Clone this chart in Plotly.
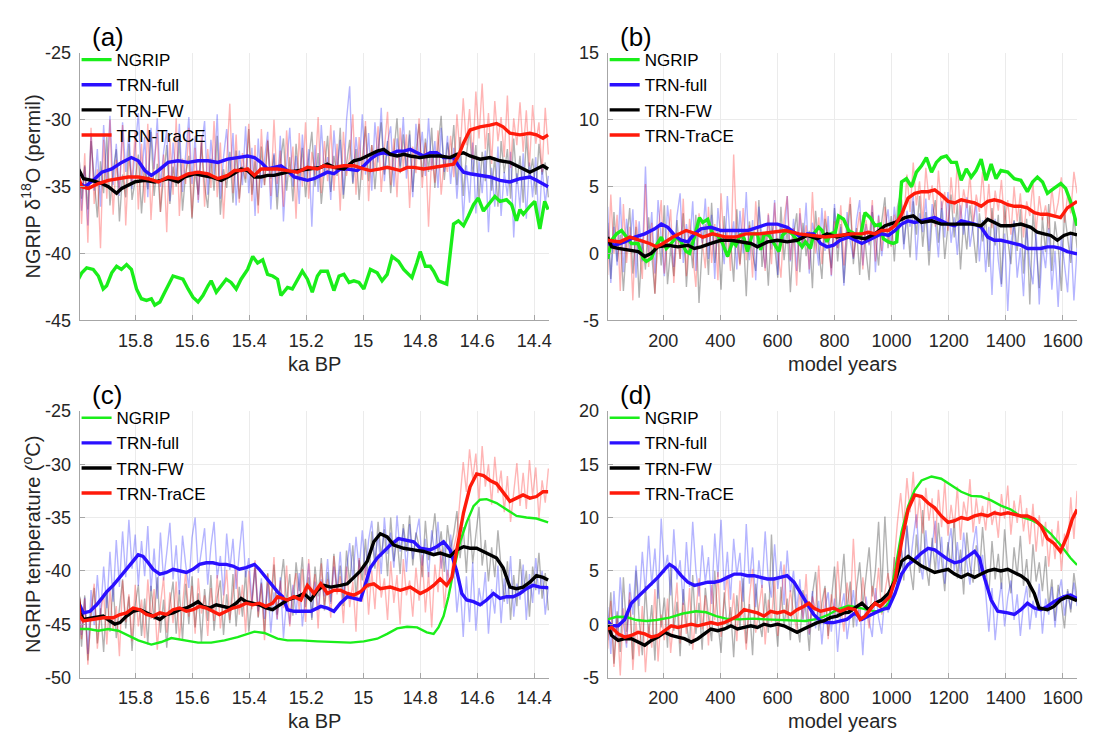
import numpy as np
import plotly.graph_objects as go

FONT = "Liberation Sans, Arial, Helvetica, sans-serif"

# ---------------- axis / tick labels ----------------
ka_ticks = [15.8, 15.6, 15.4, 15.2, 15.0, 14.8, 14.6, 14.4]
ka_ticktext = ["15.8", "15.6", "15.4", "15.2", "15", "14.8", "14.6", "14.4"]
yr_ticks = [200, 400, 600, 800, 1000, 1200, 1400, 1600]
ya_ticks = [-45, -40, -35, -30, -25]
yb_ticks = [-5, 0, 5, 10, 15]
yc_ticks = [-50, -45, -40, -35, -30, -25]
yd_ticks = [-5, 0, 5, 10, 15, 20]
series_names = ["NGRIP", "TRN-full", "TRN-FW", "TRN-TraCE"]

# ---------------- panel (a): NGRIP d18O vs ka BP ----------------
a_raw_span = [16.0, 14.35]
a_raw_fw = [-32.0, -35.9, -33.4, -36.7, -31.6, -34.8, -37.3, -33.1, -35.5, -31.3,
            -36.4, -33.9, -32.2, -37.6, -34.1, -35.8, -31.8, -36.0, -34.5, -32.6,
            -37.0, -33.6, -35.2, -30.9, -35.7, -33.3, -36.9, -34.2, -31.9, -36.3,
            -33.5, -35.0, -31.5, -36.8, -34.0, -32.7, -37.4, -33.8, -35.6, -31.7,
            -34.9, -36.6, -32.9, -35.3, -31.2, -37.1, -33.7, -35.1, -32.4, -36.2,
            -32.3, -35.9, -33.5, -34.7, -30.7, -35.6, -33.1, -36.4, -32.0, -34.9,
            -31.6, -34.4, -32.6, -36.7, -33.2, -31.4, -35.3, -32.8, -36.1, -31.8,
            -34.6, -32.1, -35.8, -33.0, -30.9, -35.0, -32.5, -36.3, -33.6, -31.2,
            -35.4, -32.7, -34.2, -30.6, -35.9, -33.3, -31.5, -34.8, -32.2, -36.0,
            -32.9, -30.5, -34.6, -31.9, -35.2, -32.3, -30.2, -34.1, -31.6, -35.5,
            -32.5, -29.9, -34.0, -31.1, -33.7, -30.8, -35.4, -32.4, -30.3, -34.3,
            -31.4, -33.9, -30.6, -35.1, -32.0, -29.7, -34.5, -31.7, -33.3, -30.4,
            -34.9, -31.3, -35.7, -32.6, -30.8, -34.2, -31.9, -36.1, -32.4, -34.6,
            -31.0, -35.3, -32.8, -36.5, -31.6, -34.0, -32.2, -35.9, -31.4, -34.8,
            -32.7, -36.2, -31.2, -34.4, -32.9, -35.6, -31.8, -34.1, -33.2, -35.8]
a_raw_full = [-31.6, -36.8, -33.5, -37.9, -31.0, -35.3, -32.2, -36.5, -30.4, -34.6,
              -29.7, -34.9, -31.8, -35.7, -30.2, -33.9, -30.9, -35.2, -32.1, -29.5,
              -34.4, -31.3, -35.8, -30.6, -33.7, -29.9, -35.0, -32.4, -30.8, -36.1,
              -31.7, -34.5, -30.3, -35.4, -32.6, -29.8, -34.8, -31.2, -36.2, -32.0,
              -30.1, -35.6, -31.5, -34.1, -29.6, -35.9, -32.8, -30.7, -34.3, -31.0,
              -36.4, -32.3, -34.9, -30.5, -35.5, -32.1, -37.2, -31.4, -35.1, -33.0,
              -30.9, -36.7, -32.5, -35.8, -31.2, -37.6, -33.4, -30.6, -35.0, -32.7,
              -36.3, -31.1, -34.6, -32.2, -38.0, -31.9, -35.4, -30.4, -34.2, -32.8,
              -36.0, -30.8, -33.9, -31.5, -35.6, -30.0, -27.5, -34.7, -31.3, -33.6,
              -29.6, -34.1, -31.0, -35.3, -30.2, -33.2, -29.1, -34.6, -31.7, -30.5,
              -35.0, -31.4, -33.5, -29.8, -34.4, -31.1, -35.8, -30.3, -33.0, -30.9,
              -34.2, -29.9, -33.8, -31.6, -35.1, -30.6, -33.9, -31.2, -34.8, -32.1,
              -35.9, -32.6, -37.6, -33.4, -36.2, -31.7, -37.0, -33.1, -35.5, -32.3,
              -38.4, -33.6, -36.5, -32.0, -37.2, -33.9, -35.7, -32.4, -38.8, -34.0,
              -36.6, -32.5, -37.4, -33.2, -35.8, -32.8, -38.1, -33.5, -36.3, -34.2]
a_raw_trace = [-31.2, -37.8, -32.5, -39.2, -30.6, -36.3, -33.7, -39.6, -31.5, -35.9,
               -30.0, -37.1, -33.0, -35.4, -30.4, -37.9, -32.8, -34.6, -30.9, -36.7,
               -31.8, -36.2, -30.3, -37.5, -33.3, -31.0, -36.9, -32.6, -38.4, -31.4,
               -35.6, -29.9, -37.2, -32.9, -34.8, -30.6, -37.3, -32.1, -36.0, -31.2,
               -36.5, -32.2, -35.1, -30.1, -35.8, -31.7, -37.4, -33.2, -28.8, -35.5,
               -31.1, -36.2, -32.5, -34.4, -30.3, -36.1, -31.9, -37.0, -30.7, -34.9,
               -31.5, -35.7, -30.0, -34.8, -32.3, -36.5, -30.8, -34.3, -32.0, -37.4,
               -31.0, -35.0, -30.2, -35.9, -32.4, -34.1, -29.8, -35.5, -31.6, -34.6,
               -30.4, -35.3, -31.8, -36.8, -30.9, -34.2, -32.7, -29.6, -35.6, -31.3,
               -34.5, -30.1, -36.1, -31.9, -33.8, -30.5, -35.4, -32.2, -29.4, -34.9,
               -31.4, -35.8, -30.6, -33.6, -31.1, -36.6, -32.0, -34.0, -29.9, -35.1,
               -31.7, -38.0, -32.5, -34.7, -30.8, -35.6, -32.9, -33.9, -31.2, -34.3,
               -29.6, -32.6, -28.4, -31.9, -29.2, -33.0, -27.9, -31.4, -27.3, -32.2,
               -29.5, -33.3, -28.6, -31.6, -29.8, -32.8, -28.2, -33.6, -29.9, -31.9,
               -28.7, -32.4, -29.3, -33.5, -28.9, -31.8, -30.2, -33.9, -29.1, -32.6]

a_ngrip = [(16.000, -41.92), (15.988, -41.44), (15.971, -41.07), (15.948, -41.19), (15.930, -41.68), (15.913, -42.65), (15.901, -42.41), (15.883, -41.44),
           (15.866, -40.95), (15.849, -41.19), (15.831, -40.83), (15.814, -41.19), (15.796, -42.65), (15.779, -43.38), (15.761, -43.50), (15.744, -43.38),
           (15.732, -43.86), (15.714, -43.62), (15.697, -42.89), (15.680, -42.16), (15.668, -41.68), (15.650, -41.80), (15.633, -41.92), (15.615, -42.65),
           (15.598, -43.26), (15.580, -43.62), (15.563, -43.14), (15.545, -42.41), (15.534, -42.04), (15.516, -42.89), (15.499, -42.41), (15.481, -41.92),
           (15.464, -42.16), (15.446, -42.65), (15.429, -41.92), (15.406, -41.19), (15.388, -40.22), (15.371, -40.71), (15.353, -40.47), (15.336, -41.56),
           (15.318, -41.68), (15.301, -41.92), (15.289, -43.14), (15.266, -42.53), (15.249, -42.65), (15.231, -41.92), (15.214, -41.32), (15.196, -41.92),
           (15.179, -42.89), (15.161, -41.68), (15.149, -41.32), (15.126, -41.32), (15.103, -42.77), (15.085, -41.68), (15.068, -41.56), (15.050, -42.16),
           (15.033, -42.04), (15.015, -42.16), (14.998, -42.65), (14.975, -41.19), (14.951, -41.44), (14.934, -42.04), (14.916, -41.56), (14.899, -40.22),
           (14.876, -40.59), (14.858, -41.19), (14.829, -41.80), (14.812, -40.71), (14.800, -39.86), (14.782, -40.95), (14.765, -40.95), (14.753, -41.32),
           (14.736, -42.04), (14.707, -42.28), (14.695, -40.22), (14.683, -37.80), (14.666, -37.56), (14.648, -37.92), (14.631, -37.19), (14.613, -36.35),
           (14.596, -35.86), (14.578, -36.83), (14.561, -36.35), (14.538, -35.74), (14.520, -36.10), (14.497, -35.98), (14.479, -36.35), (14.462, -37.56),
           (14.450, -36.71), (14.438, -37.07), (14.415, -36.47), (14.398, -36.10), (14.380, -38.16), (14.363, -36.10), (14.351, -36.71)]
a_full = [(16.003, -34.65), (15.977, -35.01), (15.942, -34.41), (15.918, -33.92), (15.883, -33.68), (15.848, -33.19), (15.814, -32.83), (15.790, -33.07),
          (15.767, -33.80), (15.744, -34.16), (15.720, -33.80), (15.685, -33.19), (15.650, -33.07), (15.615, -33.19), (15.580, -33.07), (15.545, -33.07),
          (15.510, -33.19), (15.476, -32.95), (15.441, -32.83), (15.406, -32.71), (15.382, -32.83), (15.359, -33.19), (15.336, -33.68), (15.313, -33.56),
          (15.289, -33.44), (15.266, -33.80), (15.243, -34.28), (15.219, -34.41), (15.196, -34.53), (15.173, -34.41), (15.149, -34.16), (15.126, -33.92),
          (15.103, -34.04), (15.080, -33.68), (15.056, -33.68), (15.021, -33.80), (14.998, -33.44), (14.975, -32.95), (14.951, -32.59), (14.928, -32.47),
          (14.905, -32.59), (14.881, -32.35), (14.858, -32.35), (14.835, -32.22), (14.811, -32.47), (14.788, -32.71), (14.765, -32.47), (14.742, -32.47),
          (14.718, -32.83), (14.683, -32.83), (14.666, -33.44), (14.648, -33.92), (14.625, -34.04), (14.590, -34.16), (14.555, -34.28), (14.520, -34.53),
          (14.485, -34.65), (14.450, -34.41), (14.415, -34.28), (14.392, -34.53), (14.369, -34.77), (14.351, -35.01)]
a_fw = [(16.003, -33.56), (15.982, -34.41), (15.953, -34.53), (15.918, -34.77), (15.895, -35.01), (15.866, -35.50), (15.848, -35.13), (15.825, -34.89),
        (15.802, -34.65), (15.767, -34.53), (15.732, -34.65), (15.709, -34.53), (15.685, -34.41), (15.650, -34.65), (15.627, -34.28), (15.592, -34.04),
        (15.569, -34.16), (15.534, -34.28), (15.499, -34.53), (15.464, -34.16), (15.429, -33.68), (15.406, -33.80), (15.382, -34.28), (15.359, -34.28),
        (15.336, -34.16), (15.313, -34.16), (15.266, -33.92), (15.219, -33.80), (15.184, -33.68), (15.149, -33.56), (15.126, -33.32), (15.103, -33.56),
        (15.068, -33.68), (15.033, -33.07), (15.010, -32.95), (14.975, -32.59), (14.951, -32.35), (14.928, -32.22), (14.905, -32.59), (14.881, -32.71),
        (14.858, -32.59), (14.835, -32.71), (14.800, -32.83), (14.765, -32.71), (14.730, -32.71), (14.695, -32.83), (14.672, -32.59), (14.648, -32.47),
        (14.625, -32.71), (14.590, -32.95), (14.555, -32.83), (14.520, -33.07), (14.485, -33.19), (14.450, -33.56), (14.415, -33.92), (14.392, -33.68),
        (14.369, -33.44), (14.351, -33.68)]
a_trace = [(16.003, -34.16), (15.988, -35.01), (15.965, -35.13), (15.930, -34.77), (15.895, -34.53), (15.860, -34.41), (15.825, -34.28), (15.790, -34.28),
           (15.755, -34.41), (15.720, -34.65), (15.685, -34.28), (15.650, -34.41), (15.615, -34.04), (15.580, -33.92), (15.545, -34.04), (15.510, -34.41),
           (15.476, -34.16), (15.452, -33.80), (15.429, -33.80), (15.406, -33.68), (15.382, -34.16), (15.359, -33.68), (15.336, -33.68), (15.301, -33.68),
           (15.266, -33.80), (15.231, -33.92), (15.196, -33.56), (15.161, -33.68), (15.138, -33.44), (15.103, -33.56), (15.068, -33.44), (15.033, -33.44),
           (14.998, -33.68), (14.975, -33.80), (14.940, -33.68), (14.916, -33.56), (14.893, -33.68), (14.870, -33.80), (14.846, -33.56), (14.823, -33.56),
           (14.788, -33.68), (14.753, -33.56), (14.718, -33.44), (14.683, -33.32), (14.666, -32.71), (14.648, -31.74), (14.625, -30.77), (14.590, -30.53),
           (14.555, -30.41), (14.532, -30.28), (14.509, -30.53), (14.485, -31.01), (14.450, -31.13), (14.415, -31.01), (14.392, -31.13), (14.369, -31.38),
           (14.351, -31.13)]

# ---------------- panel (b): d18O anomaly vs model years ----------------
b_raw_span = [5, 1650]
b_raw_fw = [2.3, -1.9, 3.1, -0.6, 1.4, -2.8, 0.7, 3.4, -1.5, 2.0,
            -3.3, 1.1, -1.2, 2.7, -0.1, -3.0, 1.9, -0.9, 3.6, -2.3,
            0.4, -1.7, 2.5, -0.4, 3.0, -2.5, 1.3, -1.1, 2.9, -3.7,
            0.5, 2.2, -1.6, 3.8, -0.7, 1.6, -2.7, 2.8, -0.3, 1.0,
            -2.1, 3.3, -0.8, 1.8, -3.2, 2.4, 0.0, -1.3, 4.0, -1.0,
            1.5, -2.4, 2.1, 0.6, -1.8, 3.5, -0.5, 2.0, -2.9, 1.3,
            3.0, -1.4, 2.3, -0.2, 1.7, -2.6, 3.2, 0.3, -1.9, 2.6,
            0.8, -1.1, 3.4, -0.6, 2.2, -2.2, 1.0, 3.7, -0.8, 1.9,
            -1.6, 2.9, 0.2, -2.0, 3.1, 0.9, -0.9, 2.4, 4.2, 0.4,
            2.8, -0.6, 3.5, 4.5, 0.7, 2.9, -0.3, 3.9, 1.4, 4.3,
            0.5, 3.1, -0.9, 2.6, 4.0, 0.8, 3.4, -0.4, 2.1, 4.4,
            1.2, 3.7, -1.2, 2.5, 0.3, 3.6, 1.6, -0.7, 3.0, 0.9,
            2.7, -1.0, 3.4, 0.6, 2.9, -2.3, 3.6, 1.0, -0.8, 2.5,
            0.2, 3.3, -1.5, 2.6, -3.8, 3.0, 0.8, -2.6, 2.7, 0.1,
            3.7, -1.3, 2.4, 0.6, -2.8, 3.1, 1.2, -0.7, 2.8, 0.4]
b_raw_full = [3.5, -2.2, 2.0, -0.9, 4.2, -1.4, 2.6, 0.3, 3.3, -1.8,
              2.4, -0.6, 6.5, 0.1, 3.1, -1.5, 4.0, 0.8, -1.7, 3.6,
              1.1, -1.0, 2.8, 4.5, -0.7, 2.2, 0.5, 3.9, -1.3, 2.7,
              0.8, 4.1, -0.4, 2.9, -1.9, 3.4, 1.0, -0.8, 4.3, 0.6,
              2.4, -1.2, 3.2, 0.0, 4.6, -0.5, 2.5, -2.0, 3.5, 1.3,
              -1.1, 2.9, 0.3, 4.0, -1.6, 2.1, 0.8, 4.3, -0.6, 2.6,
              -1.3, 3.0, 0.5, 3.8, -1.5, 2.3, 1.1, -0.9, 3.4, 0.2,
              2.8, -1.7, 3.7, 0.4, 2.0, -2.4, 3.1, 0.9, -0.4, 2.5,
              4.0, -0.9, 2.2, 0.6, 3.6, -1.4, 2.9, -0.2, 1.8, 3.3,
              0.6, 3.5, 1.5, 4.7, 0.3, 3.2, 2.0, 4.4, -0.5, 3.0,
              1.6, 4.1, 0.2, 3.7, 2.4, -0.3, 3.9, 1.2, 4.6, 0.8,
              2.7, -0.1, 3.6, 1.4, 4.2, 0.5, 2.2, 3.8, -0.6, 2.5,
              -1.4, 2.0, -3.1, 2.6, -0.5, -2.5, 1.5, -4.3, 0.7, 2.4,
              -1.8, 0.4, -3.2, 2.1, -0.9, -2.3, 1.7, -3.8, 0.6, -1.1,
              1.9, -2.7, 0.2, -4.0, 1.3, -0.6, -2.9, 1.5, -3.5, 0.4]
b_raw_trace = [-1.6, 4.4, 0.0, 2.9, -2.8, 3.7, -0.7, 2.0, -3.5, 2.5,
               0.5, -1.9, 5.2, -1.0, 2.3, -3.0, 1.4, 4.0, -1.5, 0.9,
               3.3, -2.2, 1.6, -0.4, 4.1, -1.7, 2.6, 0.0, -2.5, 3.0,
               0.8, -1.1, 3.5, -0.7, 2.2, -2.0, 4.5, 0.3, 1.7, -1.3,
               7.4, 0.9, -0.9, 3.4, -0.5, 2.1, -1.8, 3.9, 0.5, 1.5,
               -1.3, 3.0, -0.8, 3.8, 0.1, -1.8, 2.5, 4.3, -0.5, 1.9,
               -2.4, 3.4, 0.6, 2.1, -1.2, 4.6, 0.0, 2.7, -0.8, 3.2,
               1.1, -1.6, 2.4, 0.4, 3.6, -0.9, 2.0, 4.2, -0.3, 1.6,
               3.1, -1.2, 2.5, 0.7, 4.0, -0.6, 2.8, 0.2, 3.5, 1.3,
               0.5, 2.9, 1.6, 4.8, 2.4, 5.9, 3.1, 6.8, 3.6, 5.4,
               2.3, 6.4, 4.0, 5.1, 2.0, 6.2, 3.3, 4.6, 1.7, 5.7,
               3.0, 6.9, 2.5, 4.8, 3.4, 5.9, 2.2, 4.4, 3.1, 6.1,
               2.6, 5.2, 1.9, 4.7, 3.2, 5.5, 2.1, 4.0, 1.4, 5.0,
               2.4, 4.5, 1.2, 3.9, 2.8, 5.3, 1.6, 4.3, 2.5, 3.6,
               1.8, 4.9, 2.7, 3.8, 5.7, 2.3, 4.4, 3.0, 6.1, 4.5]

b_ngrip = [(5, -0.40), (18.8, 0.99), (36.3, 1.47), (53.7, 1.72), (71.1, 1.23), (88.5, 0.75), (111.8, 0.75), (129.2, -0.35), (140.8, -0.59),
           (158.2, -0.35), (175.6, 0.62), (193.1, 1.23), (210.5, 0.38), (227.9, 0.75), (245.3, 1.23), (262.7, 0.87), (280.2, 0.15), (291.8, 0.02),
           (309.2, 1.23), (326.6, 2.68), (338.2, 2.32), (355.6, 2.56), (373.1, 1.47), (390.5, 1.35), (407.9, 0.75), (425.3, -0.22), (442.8, 0.87),
           (454.4, 0.62), (471.8, 1.47), (483.4, 1.11), (495.0, 0.15), (512.4, 1.47), (529.9, 1.47), (541.5, 0.27), (553.1, 1.47), (570.5, 1.35),
           (587.9, 0.75), (605.3, 0.15), (617.0, 1.35), (634.4, 1.72), (651.8, 1.47), (669.2, 0.99), (686.6, 0.50), (698.3, 0.87), (715.7, 0.38),
           (727.3, 1.47), (744.7, 1.96), (756.3, 1.72), (773.8, 0.87), (785.4, 1.47), (802.8, 1.59), (814.4, 2.80), (831.8, 2.56), (849.2, 1.72),
           (872, 1.47), (890, 1.23), (907, 3.05), (925, 2.68), (942, 2.08), (960, 2.20), (971, 1.11), (989, 0.87), (1006, 0.75), (1018, 0.87),
           (1029, 3.65), (1035, 5.35), (1052, 5.59), (1070, 4.99), (1087, 6.08), (1105, 6.56), (1122, 7.17), (1140, 6.08), (1157, 6.81),
           (1174, 7.17), (1192, 7.29), (1209, 6.81), (1227, 6.81), (1244, 5.47), (1262, 6.32), (1279, 5.71), (1296, 6.20), (1314, 7.05),
           (1331, 5.47), (1349, 6.68), (1366, 5.59), (1383, 6.20), (1407, 6.08), (1430, 5.59), (1453, 5.47), (1476, 4.62), (1494, 5.35),
           (1511, 5.71), (1529, 5.35), (1546, 4.50), (1569, 4.87), (1593, 5.23), (1610, 4.87), (1627, 3.90), (1650, 2.08)]
b_full = [(5, 0.75), (30, 0.62), (65, 0.87), (100, 1.23), (135, 1.47), (170, 1.84), (193, 2.20), (216, 1.96), (240, 1.35), (263, 0.99),
          (286, 0.87), (309, 1.47), (332, 1.84), (367, 1.96), (402, 1.72), (425, 1.72), (460, 1.72), (495, 1.72), (530, 1.96), (565, 2.20),
          (600, 2.20), (634, 1.96), (658, 1.59), (681, 1.23), (704, 1.47), (727, 1.47), (751, 0.75), (774, 0.50), (797, 0.62), (820, 0.99),
          (849, 1.23), (872, 0.99), (896, 0.75), (919, 0.99), (942, 1.23), (965, 1.47), (989, 1.35), (1012, 1.72), (1035, 2.20), (1058, 2.44),
          (1081, 2.32), (1105, 2.44), (1128, 2.56), (1151, 2.68), (1174, 2.44), (1198, 2.20), (1221, 2.08), (1244, 2.44), (1267, 2.32),
          (1291, 2.20), (1314, 1.96), (1337, 1.23), (1360, 0.99), (1383, 0.99), (1407, 0.87), (1430, 0.75), (1453, 0.62), (1476, 0.38),
          (1500, 0.38), (1523, 0.38), (1546, 0.50), (1569, 0.50), (1592, 0.38), (1616, 0.14), (1650, -0.03)]
b_fw = [(5, 1.23), (19, 0.50), (42, 0.38), (77, 0.26), (112, 0.14), (135, -0.22), (158, 0.02), (181, 0.50), (216, 0.62), (251, 0.50),
        (286, 0.62), (309, 0.38), (332, 0.50), (367, 0.75), (402, 0.99), (437, 0.99), (472, 0.87), (507, 0.75), (530, 0.50), (565, 0.87),
        (600, 0.99), (634, 0.87), (669, 0.99), (704, 1.35), (739, 1.11), (774, 1.47), (809, 1.23), (849, 1.47), (872, 1.23), (907, 1.11),
        (942, 1.47), (977, 2.08), (1012, 2.32), (1047, 2.68), (1076, 2.81), (1105, 2.32), (1140, 2.44), (1174, 2.20), (1209, 2.20),
        (1244, 2.20), (1279, 2.20), (1314, 2.08), (1337, 2.56), (1360, 2.32), (1383, 2.08), (1418, 2.08), (1453, 2.20), (1488, 1.96),
        (1511, 1.59), (1534, 1.47), (1558, 1.35), (1581, 0.99), (1604, 1.35), (1627, 1.52), (1650, 1.40)]
b_trace = [(5, 0.99), (48, 0.87), (83, 1.23), (117, 0.99), (152, 0.75), (176, 0.50), (199, 0.75), (234, 1.23), (280, 1.72), (315, 1.47),
           (338, 1.23), (373, 1.47), (419, 1.23), (454, 1.23), (489, 1.47), (536, 1.47), (582, 1.59), (629, 1.72), (675, 1.47), (721, 1.35),
           (768, 1.23), (814, 1.35), (861, 1.47), (896, 1.47), (919, 1.59), (942, 1.47), (965, 1.72), (989, 1.72), (1012, 2.08), (1035, 2.93),
           (1058, 4.14), (1081, 4.50), (1105, 4.62), (1128, 4.62), (1151, 4.75), (1174, 4.38), (1198, 3.90), (1221, 3.78), (1244, 4.02),
           (1267, 3.90), (1291, 3.78), (1314, 3.53), (1337, 3.90), (1360, 4.02), (1383, 3.90), (1407, 3.65), (1430, 3.53), (1453, 3.53),
           (1476, 3.41), (1500, 3.05), (1523, 2.93), (1546, 2.93), (1569, 2.81), (1592, 2.68), (1616, 3.41), (1650, 3.90)]

# ---------------- panel (c): NGRIP temperature vs ka BP ----------------
c_raw_span = [16.0, 14.35]
c_raw_fw = [-43.0, -47.1, -42.3, -48.4, -44.2, -41.6, -46.8, -43.5, -47.6, -41.9,
            -45.7, -41.1, -46.3, -43.8, -40.8, -45.4, -42.4, -47.5, -43.2, -41.3,
            -46.1, -42.6, -46.9, -41.4, -44.6, -40.6, -45.8, -42.7, -47.2, -43.1,
            -41.0, -45.9, -41.8, -46.5, -41.2, -45.0, -40.5, -45.3, -42.1, -46.7,
            -41.7, -44.7, -40.4, -45.6, -42.5, -40.9, -46.0, -42.2, -44.9, -40.3,
            -45.2, -41.5, -44.3, -40.0, -45.7, -42.9, -39.7, -44.4, -41.1, -45.9,
            -40.2, -43.8, -39.4, -44.1, -41.6, -38.9, -43.0, -40.3, -44.2, -39.2,
            -41.9, -38.7, -43.4, -40.6, -44.6, -39.6, -42.4, -38.8, -43.7, -40.1,
            -42.9, -38.4, -42.0, -39.5, -43.3, -38.1, -41.2, -37.6, -42.5, -39.0,
            -40.9, -37.0, -41.6, -36.3, -39.8, -35.4, -38.7, -36.1, -40.5, -35.0,
            -39.1, -36.8, -40.3, -35.6, -38.2, -34.8, -39.5, -36.4, -37.7, -40.6,
            -35.3, -39.0, -37.2, -34.6, -38.4, -36.3, -40.1, -35.7, -38.0, -36.5,
            -34.4, -38.8, -35.9, -40.2, -35.1, -39.3, -36.6, -34.0, -39.5, -37.1,
            -41.0, -37.8, -40.6, -36.2, -39.7, -42.9, -39.1, -44.6, -40.4, -43.3,
            -38.9, -42.1, -40.0, -44.3, -39.6, -41.8, -38.3, -42.6, -40.2, -43.7]
c_raw_full = [-41.2, -46.0, -42.5, -47.8, -41.8, -45.1, -40.4, -44.2, -39.6, -43.5,
              -38.2, -42.9, -37.1, -41.5, -36.3, -40.6, -35.2, -39.8, -36.6, -41.4,
              -37.2, -40.5, -35.8, -41.9, -37.9, -42.6, -36.4, -40.9, -38.3, -35.5,
              -40.8, -37.6, -42.2, -36.7, -39.4, -41.6, -36.9, -35.0, -40.2, -38.1,
              -36.0, -41.3, -37.7, -35.4, -40.7, -38.6, -42.3, -36.5, -39.9, -37.0,
              -41.7, -38.3, -35.3, -40.6, -38.8, -42.9, -39.4, -43.8, -40.7, -44.5,
              -41.2, -45.8, -42.0, -44.6, -40.6, -46.3, -42.7, -45.0, -41.3, -44.1,
              -40.2, -45.2, -42.5, -39.3, -44.4, -41.0, -43.7, -40.8, -42.4, -38.9,
              -43.1, -39.6, -41.8, -38.2, -42.6, -39.7, -37.4, -40.9, -36.8, -39.9,
              -36.2, -40.4, -37.1, -35.3, -39.1, -36.5, -40.3, -35.0, -38.4, -36.4,
              -39.7, -34.8, -38.2, -36.0, -40.1, -35.6, -38.9, -36.7, -35.1, -39.5,
              -37.0, -40.6, -36.2, -38.5, -35.4, -39.8, -37.5, -41.2, -36.6, -39.3,
              -43.9, -41.0, -46.2, -40.5, -44.8, -39.2, -45.6, -41.6, -43.3, -40.1,
              -45.9, -41.7, -44.0, -39.5, -44.9, -40.7, -43.1, -38.6, -44.3, -41.2,
              -42.7, -39.4, -44.6, -40.3, -43.0, -38.8, -42.2, -40.0, -44.1, -41.5]
c_raw_trace = [-41.5, -46.4, -42.6, -48.8, -43.7, -41.2, -47.3, -44.0, -42.1, -46.9,
               -41.8, -45.6, -43.3, -48.0, -40.9, -44.8, -42.2, -46.6, -41.3, -45.2,
               -42.7, -46.3, -40.8, -44.5, -41.7, -47.4, -43.2, -40.6, -45.8, -42.0,
               -44.9, -41.0, -46.4, -42.9, -40.1, -44.3, -41.4, -45.9, -40.7, -44.0,
               -42.3, -46.1, -41.6, -44.7, -40.4, -45.4, -42.8, -39.9, -44.6, -41.9,
               -39.7, -44.1, -41.3, -45.8, -40.0, -43.6, -39.0, -44.3, -41.2, -46.5,
               -40.3, -43.1, -38.7, -44.5, -40.9, -43.5, -39.5, -45.2, -41.8, -40.2,
               -43.8, -39.8, -44.8, -38.9, -42.6, -40.3, -45.4, -39.3, -43.2, -40.8,
               -44.4, -38.6, -42.2, -40.5, -44.9, -39.6, -43.4, -41.0, -45.7, -38.8,
               -42.9, -39.2, -44.1, -40.0, -43.6, -38.4, -42.5, -40.7, -44.6, -39.1,
               -43.0, -40.4, -45.0, -38.9, -42.3, -40.9, -44.3, -39.7, -42.8, -38.5,
               -43.9, -40.1, -45.3, -39.4, -42.0, -38.0, -43.5, -39.9, -41.6, -37.8,
               -36.5, -33.2, -29.8, -32.6, -28.6, -31.4, -29.0, -33.5, -28.3, -32.1,
               -30.0, -33.8, -29.3, -32.7, -30.6, -34.5, -31.1, -35.4, -32.4, -29.9,
               -33.9, -30.8, -34.2, -29.6, -33.0, -30.3, -35.1, -31.5, -33.6, -30.4]

c_ngrip = [(16.0, -45.45), (15.965, -45.45), (15.930, -45.61), (15.895, -45.45), (15.860, -45.61), (15.837, -45.91), (15.790, -46.52), (15.744, -46.91),
           (15.709, -46.67), (15.674, -46.30), (15.627, -46.52), (15.580, -46.73), (15.534, -46.73), (15.487, -46.52), (15.441, -46.21), (15.382, -45.70),
           (15.347, -45.82), (15.301, -46.36), (15.266, -46.52), (15.219, -46.52), (15.161, -46.61), (15.103, -46.67), (15.045, -46.73), (14.998, -46.61),
           (14.951, -46.36), (14.916, -45.91), (14.881, -45.39), (14.846, -45.24), (14.811, -45.30), (14.777, -45.76), (14.753, -45.91), (14.736, -45.30),
           (14.718, -44.24), (14.701, -42.42), (14.683, -40.00), (14.660, -37.27), (14.637, -35.45), (14.613, -33.94), (14.590, -33.33), (14.567, -33.27),
           (14.532, -33.64), (14.497, -34.24), (14.462, -34.85), (14.427, -35.00), (14.392, -35.09), (14.351, -35.45)]
c_full = [(16.000, -42.90), (15.983, -43.94), (15.959, -43.79), (15.936, -43.18), (15.918, -42.58), (15.901, -41.97), (15.878, -41.36), (15.854, -40.61),
          (15.831, -39.85), (15.808, -39.09), (15.790, -38.48), (15.773, -38.64), (15.755, -39.24), (15.738, -39.85), (15.714, -40.30), (15.691, -40.15),
          (15.668, -39.85), (15.645, -40.00), (15.621, -40.15), (15.598, -39.85), (15.575, -39.39), (15.551, -39.24), (15.528, -39.24), (15.505, -39.39),
          (15.481, -39.39), (15.458, -39.55), (15.435, -39.85), (15.411, -39.70), (15.382, -39.39), (15.365, -39.85), (15.342, -40.61), (15.318, -41.36),
          (15.301, -41.97), (15.283, -42.42), (15.266, -43.64), (15.243, -43.79), (15.219, -43.79), (15.184, -43.79), (15.149, -43.33), (15.126, -43.48),
          (15.103, -43.79), (15.080, -43.03), (15.056, -42.42), (15.033, -42.58), (15.010, -42.73), (14.992, -41.21), (14.975, -39.70), (14.951, -38.79),
          (14.928, -38.18), (14.905, -37.58), (14.876, -36.97), (14.846, -37.12), (14.823, -37.27), (14.800, -37.88), (14.765, -38.03), (14.742, -37.73),
          (14.718, -37.27), (14.695, -38.03), (14.672, -40.00), (14.654, -42.12), (14.637, -42.73), (14.613, -42.88), (14.590, -43.18), (14.567, -42.73),
          (14.543, -42.12), (14.520, -42.58), (14.497, -42.42), (14.474, -42.42), (14.450, -42.12), (14.427, -41.67), (14.404, -41.36), (14.380, -41.52),
          (14.351, -41.58)]
c_fw = [(16.000, -42.42), (15.995, -43.94), (15.983, -44.55), (15.948, -44.39), (15.913, -44.24), (15.889, -44.70), (15.872, -45.00), (15.854, -44.85),
        (15.831, -44.24), (15.808, -43.79), (15.784, -43.64), (15.761, -43.94), (15.738, -44.24), (15.714, -44.55), (15.691, -44.09), (15.668, -43.94),
        (15.645, -43.64), (15.621, -43.48), (15.598, -43.18), (15.580, -42.88), (15.563, -43.33), (15.540, -43.48), (15.516, -43.18), (15.493, -43.33),
        (15.470, -43.48), (15.446, -43.03), (15.429, -42.58), (15.411, -42.88), (15.388, -43.03), (15.365, -43.18), (15.342, -43.48), (15.318, -43.64),
        (15.301, -43.33), (15.266, -42.73), (15.231, -42.42), (15.208, -42.12), (15.184, -42.73), (15.161, -41.82), (15.138, -41.36), (15.114, -41.52),
        (15.080, -41.36), (15.056, -41.21), (15.033, -40.61), (15.010, -40.00), (14.986, -39.09), (14.963, -37.27), (14.940, -36.52), (14.916, -36.82),
        (14.893, -37.58), (14.858, -37.88), (14.823, -38.03), (14.788, -38.18), (14.753, -38.48), (14.730, -38.33), (14.695, -38.64), (14.672, -38.03),
        (14.648, -37.73), (14.625, -37.88), (14.602, -37.88), (14.578, -38.18), (14.555, -38.48), (14.532, -38.79), (14.509, -39.70), (14.485, -41.52),
        (14.462, -41.67), (14.439, -41.52), (14.415, -41.06), (14.392, -40.45), (14.369, -40.61), (14.351, -40.85)]
c_trace = [(16.000, -42.58), (15.995, -44.24), (15.983, -44.70), (15.948, -44.55), (15.913, -44.39), (15.878, -44.39), (15.854, -44.09), (15.831, -43.94),
           (15.808, -43.48), (15.784, -43.64), (15.761, -44.09), (15.738, -44.24), (15.714, -43.94), (15.691, -44.09), (15.668, -43.64), (15.645, -43.48),
           (15.621, -43.79), (15.598, -43.64), (15.575, -43.33), (15.551, -43.48), (15.528, -43.79), (15.505, -44.09), (15.481, -43.79), (15.458, -43.48),
           (15.435, -43.33), (15.411, -43.03), (15.388, -43.18), (15.365, -43.03), (15.342, -43.33), (15.318, -43.03), (15.301, -42.42), (15.283, -42.58),
           (15.266, -42.73), (15.243, -42.42), (15.219, -42.73), (15.196, -41.36), (15.173, -42.12), (15.149, -41.21), (15.126, -42.12), (15.103, -41.82),
           (15.080, -41.82), (15.056, -42.12), (15.033, -42.27), (15.010, -41.97), (14.986, -41.36), (14.963, -41.21), (14.940, -41.67), (14.905, -41.52),
           (14.870, -41.82), (14.835, -41.52), (14.800, -42.12), (14.777, -41.82), (14.753, -41.36), (14.730, -40.76), (14.707, -41.36), (14.689, -40.61),
           (14.672, -38.18), (14.648, -34.55), (14.625, -32.12), (14.602, -30.91), (14.578, -31.06), (14.555, -31.52), (14.532, -31.82), (14.509, -32.58),
           (14.485, -33.48), (14.462, -33.18), (14.439, -32.88), (14.415, -33.18), (14.392, -33.03), (14.369, -32.58), (14.351, -32.58)]

# ---------------- panel (d): temperature anomaly vs model years ----------------
d_raw_span = [5, 1650]
d_raw_fw = [-1.5, 3.0, -3.7, 1.2, -2.6, 4.4, -0.7, 2.3, -3.3, 5.0,
            0.4, -2.9, 3.6, -1.1, 1.8, -3.4, 4.3, -0.3, 2.5, -2.2,
            5.6, -0.6, 2.1, -3.0, 3.3, 0.1, -2.0, 4.6, -0.9, 2.0,
            -2.4, 3.4, 0.7, -1.6, 5.0, 0.2, -2.7, 3.0, -0.5, 1.6,
            -3.1, 2.7, -0.4, 4.3, -1.8, 1.9, -2.9, 3.8, 0.5, -1.2,
            2.9, -0.8, 8.4, 1.2, -2.1, 3.5, -0.2, 2.4, -1.5, 4.1,
            0.3, -1.7, 3.2, 1.0, -2.5, 2.8, 4.9, -0.6, 2.0, 3.6,
            -1.1, 2.5, 5.4, 0.6, 3.1, 6.6, 1.4, 4.0, -0.3, 3.3,
            5.8, 1.7, 4.4, 7.2, 2.6, 5.1, 9.6, 3.0, 10.1, 4.5,
            2.2, 6.3, 3.5, 7.9, 4.1, 9.2, 5.3, 3.2, 8.4, 4.8,
            10.7, 5.6, 3.6, 8.1, 4.9, 9.5, 6.0, 3.1, 7.7, 5.2,
            9.9, 4.3, 7.0, 2.8, 8.6, 5.5, 3.9, 7.4, 4.6, 9.1,
            5.3, 2.7, 7.8, 4.2, 6.6, 3.3, 8.9, 5.0, 2.9, 7.2,
            4.5, 8.3, 3.6, 6.1, 2.5, 7.5, 4.0, 5.8, 3.1, 6.4,
            1.6, 4.2, 0.3, 3.7, 2.0, -0.4, 3.3, 1.1, 4.8, 2.5]
d_raw_full = [1.6, -2.8, 3.1, -1.3, 4.4, 0.2, -2.2, 3.8, 0.9, 5.5,
              1.7, 6.8, 2.9, 8.3, 3.6, 7.1, 2.4, 9.9, 4.8, 6.5,
              2.7, 8.9, 4.2, 6.0, 1.8, 7.7, 3.5, 9.6, 5.1, 2.6,
              7.4, 3.9, 6.3, 1.9, 8.5, 4.4, 9.8, 3.2, 6.8, 2.3,
              8.0, 4.6, 6.7, 2.1, 9.4, 3.8, 7.2, 1.6, 6.0, 3.4,
              8.7, 4.1, 2.5, 7.5, 3.3, 5.9, 1.8, 6.9, 3.0, 5.0,
              1.3, 4.2, 0.4, 2.8, -1.0, 3.1, -0.4, 2.2, -1.9, 1.6,
              3.0, -0.7, 2.4, -2.6, 1.2, 2.9, -1.4, 0.8, 3.2, -0.2,
              1.9, -2.9, 2.6, 0.3, -1.2, 3.4, 0.6, -0.9, 2.7, 1.1,
              2.3, 4.6, 3.2, 7.9, 4.8, 9.3, 5.5, 8.1, 10.3, 6.0,
              4.2, 8.8, 5.3, 7.4, 9.7, 4.9, 8.2, 3.8, 7.1, 9.0,
              5.0, 7.7, 4.4, 8.6, 5.8, 3.7, 7.3, 9.2, 4.6, 6.5,
              2.9, -0.7, 3.4, -1.5, 1.7, 3.9, -0.2, 2.5, 4.1, 0.4,
              2.8, -1.1, 1.9, 3.6, -0.5, 2.2, 0.6, 3.8, -0.9, 2.4,
              0.9, 3.5, -0.3, 2.7, 4.2, 0.8, 3.1, 1.4, 3.9, 1.7]
d_raw_trace = [-2.3, 2.2, -4.0, 0.7, -4.8, 1.5, -1.8, 3.0, -4.3, 0.2,
               -3.0, 1.7, -4.5, 0.0, -2.2, 3.3, -3.5, 0.9, -1.5, 2.4,
               -2.7, 0.6, 3.9, -1.8, 2.0, -0.9, 3.4, -2.4, 1.2, 4.3,
               -0.5, 2.7, -2.0, 3.7, 0.4, 4.9, -1.2, 2.2, 4.6, -0.2,
               2.9, -1.6, 4.1, 0.7, -2.4, 2.5, 5.2, -0.8, 1.6, 3.7,
               -1.9, 2.3, 0.2, 4.4, -1.1, 1.8, 5.6, 0.4, 3.2, 1.0,
               -0.6, 3.1, 0.5, 4.7, -0.9, 2.6, 1.3, 5.5, 0.1, 3.4,
               -1.4, 2.8, 0.8, 5.9, 1.6, -0.7, 3.9, 1.2, 8.0, 2.3,
               0.4, 4.4, 1.7, -0.4, 3.6, 2.0, 5.3, 0.9, 3.0, 4.8,
               2.5, 6.1, 9.6, 12.3, 9.2, 13.7, 10.5, 14.3, 9.0, 12.0,
               8.5, 12.8, 9.7, 11.8, 7.6, 12.6, 9.1, 13.4, 8.3, 11.2,
               9.0, 12.9, 7.9, 11.5, 10.0, 13.6, 8.6, 11.8, 9.4, 11.1,
               8.8, 12.4, 9.3, 10.7, 8.1, 12.2, 9.9, 13.0, 8.4, 11.6,
               9.5, 12.1, 8.7, 10.9, 7.5, 11.3, 6.8, 10.2, 7.3, 9.6,
               5.4, 8.9, 6.1, 9.7, 5.0, 8.5, 6.6, 11.9, 8.0, 12.5]

d_ngrip = [(5, 0.45), (36, 0.70), (71, 0.67), (106, 0.39), (141, 0.30), (176, 0.39), (222, 0.61), (269, 1.00), (315, 1.21), (350, 1.12),
           (385, 0.76), (420, 0.52), (466, 0.45), (512, 0.52), (559, 0.45), (605, 0.39), (652, 0.30), (698, 0.30), (745, 0.52), (780, 0.91),
           (814, 1.42), (849, 1.73), (872, 1.62), (907, 1.45), (942, 1.21), (965, 1.21), (989, 1.97), (1012, 5.00), (1035, 8.64), (1058, 11.06),
           (1081, 12.58), (1105, 13.48), (1140, 13.85), (1174, 13.64), (1209, 13.03), (1244, 12.42), (1279, 12.03), (1314, 11.97), (1349, 11.61),
           (1383, 11.12), (1418, 10.76), (1453, 10.09), (1488, 9.79), (1523, 9.30), (1558, 8.48), (1592, 7.42), (1627, 6.21), (1650, 5.55)]
d_full = [(5, 0.30), (19, -0.15), (42, -0.15), (65, 0.45), (88, 1.97), (112, 2.58), (135, 3.18), (158, 3.79), (181, 4.39), (205, 5.15),
          (222, 5.61), (240, 5.30), (263, 4.55), (286, 3.94), (309, 3.64), (332, 3.79), (356, 3.94), (379, 3.94), (402, 4.09), (425, 4.39),
          (449, 4.70), (472, 4.70), (495, 4.55), (518, 4.55), (541, 4.39), (565, 4.24), (588, 4.24), (611, 4.39), (634, 4.55), (658, 3.94),
          (681, 2.88), (704, 1.97), (727, 0.91), (751, 0.30), (774, 0.15), (797, 0.15), (820, 0.30), (843, 0.45), (872, 1.06), (896, 0.45),
          (919, 0.76), (942, 1.06), (965, 1.36), (989, 1.52), (1012, 2.88), (1035, 4.70), (1058, 5.61), (1081, 6.06), (1105, 6.67),
          (1128, 7.12), (1151, 6.97), (1174, 6.52), (1198, 6.06), (1221, 5.76), (1244, 5.91), (1267, 6.36), (1291, 6.82), (1308, 6.21),
          (1325, 4.39), (1349, 2.27), (1372, 1.21), (1407, 1.06), (1430, 0.91), (1453, 1.36), (1476, 1.97), (1500, 1.52), (1523, 1.36),
          (1546, 1.67), (1569, 2.12), (1604, 2.58), (1627, 2.73), (1650, 2.42)]
d_fw = [(5, 0.00), (19, -1.06), (42, -1.52), (65, -1.36), (88, -1.36), (112, -1.67), (135, -1.97), (158, -1.52), (181, -1.21), (205, -0.76),
        (228, -1.06), (251, -1.21), (274, -1.36), (298, -1.67), (321, -1.36), (344, -0.91), (367, -0.45), (391, -0.61), (414, -0.45), (437, -0.15),
        (460, -0.45), (483, -0.30), (507, -0.15), (530, -0.30), (553, 0.00), (576, -0.15), (600, 0.00), (623, -0.15), (646, -0.45), (669, -0.76),
        (692, -0.45), (716, -0.15), (739, 0.15), (762, 0.30), (785, 0.61), (809, 0.76), (832, 1.06), (849, 1.12), (872, 1.52), (896, 1.97),
        (919, 1.36), (942, 1.97), (965, 2.27), (989, 2.88), (1012, 4.09), (1035, 5.91), (1058, 6.36), (1081, 5.91), (1105, 5.45), (1128, 5.15),
        (1151, 4.85), (1174, 5.00), (1198, 5.15), (1221, 4.70), (1244, 4.39), (1267, 4.70), (1291, 4.39), (1314, 4.70), (1337, 5.00),
        (1360, 5.15), (1383, 5.00), (1407, 5.15), (1430, 4.85), (1453, 4.55), (1476, 4.09), (1500, 2.88), (1517, 1.52), (1546, 1.36),
        (1569, 1.67), (1592, 2.27), (1616, 2.58), (1650, 2.21)]
d_trace = [(5, -0.45), (19, -0.30), (42, -0.91), (65, -1.21), (88, -1.06), (112, -0.76), (135, -0.91), (158, -1.21), (181, -1.06), (205, -0.61),
           (228, -0.15), (251, -0.30), (274, -0.15), (298, 0.00), (321, -0.15), (344, 0.00), (367, 0.15), (391, 0.00), (414, 0.15), (437, 0.45),
           (460, 0.76), (483, 1.36), (507, 1.21), (530, 1.06), (553, 0.76), (576, 1.21), (600, 1.06), (623, 1.21), (646, 0.91), (669, 1.36),
           (692, 1.67), (710, 1.97), (727, 1.52), (751, 1.21), (774, 1.36), (797, 1.52), (820, 1.21), (849, 1.52), (872, 1.36), (890, 0.45),
           (907, 0.76), (925, 1.36), (942, 1.97), (960, 1.67), (977, 2.12), (994, 2.58), (1012, 4.09), (1035, 7.73), (1058, 10.76),
           (1081, 12.12), (1105, 11.97), (1128, 11.36), (1151, 10.91), (1174, 10.15), (1198, 9.55), (1221, 9.70), (1244, 10.00), (1267, 9.85),
           (1291, 10.15), (1314, 10.30), (1337, 10.15), (1360, 10.45), (1383, 10.30), (1407, 10.45), (1430, 10.30), (1453, 10.15),
           (1476, 10.15), (1500, 9.85), (1523, 9.24), (1546, 8.03), (1569, 7.58), (1592, 6.82), (1616, 8.33), (1633, 9.85), (1650, 10.76)]

# ---------------- styling ----------------
RAW_COLORS = {"fw": "rgba(0,0,0,0.30)", "full": "rgba(0,0,255,0.29)", "trace": "rgba(255,0,0,0.29)"}
LINE_COLORS = ["#1aee1a", "#2a10ff", "#000000", "#ff1a0a"]

W, H = 1095, 743
# pixel boxes of the four axes: (left, right, top, bottom)
boxes = {1: (80, 552, 44, 319), 2: (611, 1083, 44, 319), 3: (80, 552, 412, 686), 4: (611, 1083, 412, 686)}

fig = go.Figure()

panels = [
    (1, a_raw_span, a_raw_fw, a_raw_full, a_raw_trace, [a_ngrip, a_full, a_fw, a_trace], 3.4),
    (2, b_raw_span, b_raw_fw, b_raw_full, b_raw_trace, [b_ngrip, b_full, b_fw, b_trace], 3.4),
    (3, c_raw_span, c_raw_fw, c_raw_full, c_raw_trace, [c_ngrip, c_full, c_fw, c_trace], 2.4),
    (4, d_raw_span, d_raw_fw, d_raw_full, d_raw_trace, [d_ngrip, d_full, d_fw, d_trace], 2.4),
]

for k, span, rfw, rfull, rtrace, smooth, gw in panels:
    xa = "x" if k == 1 else f"x{k}"
    ya = "y" if k == 1 else f"y{k}"
    lg = "legend" if k == 1 else f"legend{k}"
    for key, vals in (("fw", rfw), ("full", rfull), ("trace", rtrace)):
        t = np.linspace(span[0], span[1], len(vals))
        fig.add_trace(go.Scatter(x=t, y=vals, mode="lines", xaxis=xa, yaxis=ya,
                                 line=dict(color=RAW_COLORS[key], width=1.4),
                                 showlegend=False, hoverinfo="skip"))
    for i, (name, pts) in enumerate(zip(series_names, smooth)):
        xs = [p[0] for p in pts]
        ys = [p[1] for p in pts]
        fig.add_trace(go.Scatter(x=xs, y=ys, mode="lines", name=name, xaxis=xa, yaxis=ya,
                                 line=dict(color=LINE_COLORS[i], width=(gw if i == 0 else 3.4)),
                                 legend=lg, legendgroup=f"{k}_{i}"))

axis_common = dict(showline=True, linecolor="#a6a6a6", linewidth=1, ticks="inside", ticklen=5,
                   tickcolor="#a6a6a6", showgrid=True, gridcolor="#ebebeb", gridwidth=1,
                   zeroline=False, mirror=False,
                   tickfont=dict(size=18, color="#262626", family=FONT))

yranges = {1: [-45, -25], 2: [-5, 15], 3: [-50, -25], 4: [-5, 20]}
yticks = {1: ya_ticks, 2: yb_ticks, 3: yc_ticks, 4: yd_ticks}
layout = dict(width=W, height=H, margin=dict(l=0, r=0, t=0, b=0),
              paper_bgcolor="white", plot_bgcolor="white",
              font=dict(family=FONT, color="#262626"))

for k, (l, r, t, b) in boxes.items():
    xn = "xaxis" if k == 1 else f"xaxis{k}"
    yn = "yaxis" if k == 1 else f"yaxis{k}"
    ya = "y" if k == 1 else f"y{k}"
    xa = "x" if k == 1 else f"x{k}"
    if k in (1, 3):
        xax = dict(range=[15.996, 14.348], tickvals=ka_ticks, ticktext=ka_ticktext)
    else:
        xax = dict(range=[5, 1650], tickvals=yr_ticks, ticktext=[str(v) for v in yr_ticks])
    xax.update(axis_common, domain=[l / W, r / W], anchor=ya, ticklabelstandoff=4)
    yax = dict(range=yranges[k], tickvals=yticks[k], ticktext=[str(v) for v in yticks[k]])
    yax.update(axis_common, domain=[1 - b / H, 1 - t / H], anchor=xa, ticklabelstandoff=4)
    layout[xn] = xax
    layout[yn] = yax
    lg = "legend" if k == 1 else f"legend{k}"
    layout[lg] = dict(x=(l - 3) / W, y=1 - (t - 11) / H, xanchor="left", yanchor="top",
                      bgcolor="rgba(0,0,0,0)", borderwidth=0, tracegroupgap=0,
                      font=dict(size=17, family=FONT, color="#000000"), itemwidth=30)

annotations = []
labels = {1: "(a)", 2: "(b)", 3: "(c)", 4: "(d)"}
xtitles = {1: "ka BP", 2: "model years", 3: "ka BP", 4: "model years"}
for k, (l, r, t, b) in boxes.items():
    annotations.append(dict(text=labels[k], x=(l + 10) / W, y=1 - (t - 16) / H, xref="paper", yref="paper",
                            xanchor="left", yanchor="middle", showarrow=False,
                            font=dict(size=26, family=FONT, color="#000000")))
    annotations.append(dict(text=xtitles[k], x=((l + r) / 2) / W, y=1 - (b + 45) / H, xref="paper", yref="paper",
                            xanchor="center", yanchor="middle", showarrow=False,
                            font=dict(size=20, family=FONT, color="#262626")))
annotations.append(dict(text="NGRIP δ<sup>18</sup>O (permil)", x=31 / W, y=1 - 181.5 / H, xref="paper", yref="paper",
                        textangle=-90, xanchor="center", yanchor="middle", showarrow=False,
                        font=dict(size=20, family=FONT, color="#262626")))
annotations.append(dict(text="NGRIP temperature (<sup>o</sup>C)", x=31 / W, y=1 - 549 / H, xref="paper", yref="paper",
                        textangle=-90, xanchor="center", yanchor="middle", showarrow=False,
                        font=dict(size=20, family=FONT, color="#262626")))
layout["annotations"] = annotations
fig.update_layout(**layout)

fig.write_html("out.html")
